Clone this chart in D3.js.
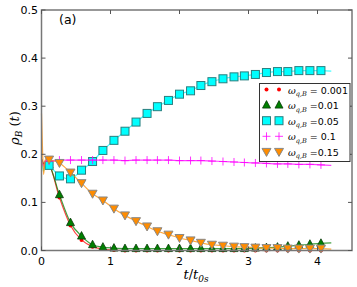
<!DOCTYPE html>
<html><head><meta charset="utf-8">
<script src="https://cdn.jsdelivr.net/npm/d3@7/dist/d3.min.js"></script>
<style>body{margin:0;background:#fff}svg{display:block}</style>
</head><body><svg id="c" width="357" height="287"></svg>
<script>
// marker times (t/t0s)
const tMarkers = [0.11,0.26,0.42,0.58,0.74,0.89,1.05,1.21,1.37,1.53,1.68,1.84,2.00,2.16,2.31,2.47,2.63,2.79,2.94,3.10,3.26,3.42,3.57,3.73,3.89,4.05];
const rho001 = [0.178,0.110,0.052,0.022,0.008,0.003,0.001,0,0,0,0,0,0,0,0,0,0,0,0,0,0,0,0,0,0,0];
const rho01  = [0.178,0.116,0.058,0.030,0.012,0.007,0.005,0.004,0.004,0.004,0.004,0.004,0.004,0.004,0.004,0.004,0.004,0.004,0.004,0.005,0.006,0.007,0.009,0.011,0.013,0.015];
const rho05  = [0.177,0.155,0.149,0.167,0.185,0.208,0.229,0.248,0.267,0.285,0.299,0.312,0.325,0.332,0.343,0.351,0.357,0.361,0.363,0.366,0.370,0.372,0.372,0.374,0.374,0.374];
const rho1   = [0.186,0.188,0.188,0.188,0.188,0.188,0.188,0.187,0.188,0.188,0.188,0.188,0.187,0.187,0.187,0.186,0.185,0.184,0.183,0.182,0.181,0.180,0.180,0.179,0.179,0.178];
const rho15  = [0.189,0.182,0.162,0.140,0.118,0.104,0.087,0.073,0.061,0.050,0.040,0.033,0.026,0.021,0.016,0.012,0.010,0.008,0.007,0.006,0.005,0.005,0.004,0.004,0.004,0.004];
// line start (transient) and end points
const headT = [0, 0.015, 0.03, 0.05, 0.07];
const head001 = [0.19,0.185,0.18,0.182,0.181];
const head01  = [0.19,0.185,0.18,0.183,0.182];
const head05  = [0.19,0.175,0.165,0.178,0.18];
const head1   = [0.19,0.18,0.175,0.186,0.187];
const head15  = [0.285,0.21,0.158,0.185,0.192];
const endT = 4.2;
const end001 = 0.0, end01 = 0.016, end05 = 0.373, end1 = 0.177, end15 = 0.003;
const xTicks = [0,1,2,3,4];
const yTicks = [0.0,0.1,0.2,0.3,0.4,0.5];
const legendLabels = ["= 0.001","=0.01","=0.05","= 0.1","=0.15"];

const svg = d3.select("#c");
const x = d3.scaleLinear().domain([0,4.5]).range([41.5,352]);
const y = d3.scaleLinear().domain([0,0.5]).range([250.5,10]);

const series = [
  {vals:rho001, head:head001, end:end001, color:"#ff0000", marker:"dot"},
  {vals:rho01, head:head01, end:end01, color:"#008000", marker:"tri"},
  {vals:rho05, head:head05, end:end05, color:"#00ffff", marker:"sq"},
  {vals:rho1, head:head1, end:end1, color:"#ff00ff", marker:"plus"},
  {vals:rho15, head:head15, end:end15, color:"#ff8c00", marker:"tridown"}
];

const plot = svg.append("g");
const line = d3.line().x(d=>x(d[0])).y(d=>y(d[1])).curve(d3.curveMonotoneX);

function drawMarker(g, type, cx, cy, color){
  if(type==="dot"){
    g.append("circle").attr("cx",cx).attr("cy",cy).attr("r",2).attr("fill",color);
  } else if(type==="sq"){
    g.append("rect").attr("x",cx-4).attr("y",cy-4).attr("width",8).attr("height",8)
      .attr("fill",color).attr("stroke","#2a7f7f").attr("stroke-width",1);
  } else if(type==="tri"){
    g.append("path").attr("d",`M${cx},${cy-4.5}L${cx+4},${cy+3}L${cx-4},${cy+3}Z`)
      .attr("fill",color).attr("stroke","#0a3a0a").attr("stroke-width",0.8);
  } else if(type==="tridown"){
    g.append("path").attr("d",`M${cx-4.5},${cy-3.5}L${cx+4.5},${cy-3.5}L${cx},${cy+4.5}Z`)
      .attr("fill",color).attr("stroke","#888").attr("stroke-width",1);
  } else if(type==="plus"){
    g.append("path").attr("d",`M${cx-4},${cy}H${cx+4}M${cx},${cy-4}V${cy+4}`)
      .attr("stroke",color).attr("stroke-width",1).attr("fill","none").attr("stroke-opacity",0.8);
  }
}

series.forEach(s=>{
  const pts = headT.map((t,i)=>[t,s.head[i]])
    .concat(tMarkers.map((t,i)=>[t,s.vals[i]]))
    .concat([[endT,s.end]]);
  plot.append("path").attr("d",line(pts)).attr("fill","none")
    .attr("stroke",s.color).attr("stroke-width",1.2).attr("stroke-opacity",0.75);
  const mg = plot.append("g");
  tMarkers.forEach((t,i)=>drawMarker(mg,s.marker,x(t),y(s.vals[i]),s.color));
});

// spines
const ax = svg.append("g");
ax.append("rect").attr("x",x(0)).attr("y",y(0.5)).attr("width",x(4.5)-x(0)).attr("height",y(0)-y(0.5))
  .attr("fill","none").attr("stroke","#777").attr("stroke-width",1.5);
// ticks (inward, all sides)
xTicks.forEach(v=>{
  ax.append("line").attr("x1",x(v)).attr("x2",x(v)).attr("y1",y(0)).attr("y2",y(0)-4).attr("stroke","#555");
  ax.append("line").attr("x1",x(v)).attr("x2",x(v)).attr("y1",y(0.5)).attr("y2",y(0.5)+4).attr("stroke","#555");
  ax.append("text").attr("x",x(v)).attr("y",y(0)+14).attr("text-anchor","middle")
    .attr("font-family","DejaVu Sans").attr("font-size",11).text(v);
});
yTicks.forEach(v=>{
  ax.append("line").attr("x1",x(0)).attr("x2",x(0)+4).attr("y1",y(v)).attr("y2",y(v)).attr("stroke","#555");
  ax.append("line").attr("x1",x(4.5)).attr("x2",x(4.5)-4).attr("y1",y(v)).attr("y2",y(v)).attr("stroke","#555");
  ax.append("text").attr("x",38).attr("y",y(v)+4).attr("text-anchor","end")
    .attr("font-family","DejaVu Sans").attr("font-size",11).text(v.toFixed(1));
});

// panel label
svg.append("text").attr("x",59).attr("y",24).attr("font-family","DejaVu Sans").attr("font-size",12.5).text("(a)");

// axis labels
const xl = svg.append("text").attr("x",196).attr("y",279).attr("text-anchor","middle")
  .attr("font-family","DejaVu Serif").attr("font-size",13);
xl.append("tspan").attr("font-style","italic").text("t");
xl.append("tspan").text("/");
xl.append("tspan").attr("font-style","italic").text("t");
xl.append("tspan").attr("font-size",9).attr("dy",3).attr("font-style","italic").text("0s");

const yl = svg.append("text").attr("transform","translate(19,128) rotate(-90)").attr("text-anchor","middle")
  .attr("font-family","DejaVu Serif").attr("font-size",13);
yl.append("tspan").attr("font-style","italic").text("ρ");
yl.append("tspan").attr("font-size",9).attr("dy",3).attr("font-style","italic").text("B");
yl.append("tspan").attr("dy",-3).text(" (");
yl.append("tspan").attr("font-style","italic").text("t");
yl.append("tspan").text(")");

// legend
const lg = svg.append("g");
lg.append("rect").attr("x",259.5).attr("y",83.5).attr("width",90.5).attr("height",78)
  .attr("fill","#fff").attr("stroke","#333").attr("stroke-width",1);
series.forEach((s,i)=>{
  const ry = 89.5 + i*15.6;
  drawMarker(lg,s.marker,266.5,ry,s.color);
  drawMarker(lg,s.marker,279,ry,s.color);
  const t = lg.append("text").attr("x",288).attr("y",ry+4)
    .attr("font-family","DejaVu Sans").attr("font-size",9.5);
  t.append("tspan").attr("font-family","DejaVu Serif").attr("font-style","italic").text("ω");
  t.append("tspan").attr("font-size",6.5).attr("dy",2.5).attr("font-family","DejaVu Serif").attr("font-style","italic").text("q,B");
  t.append("tspan").attr("dy",-2.5).text(" "+legendLabels[i]);
});
</script></body></html>
